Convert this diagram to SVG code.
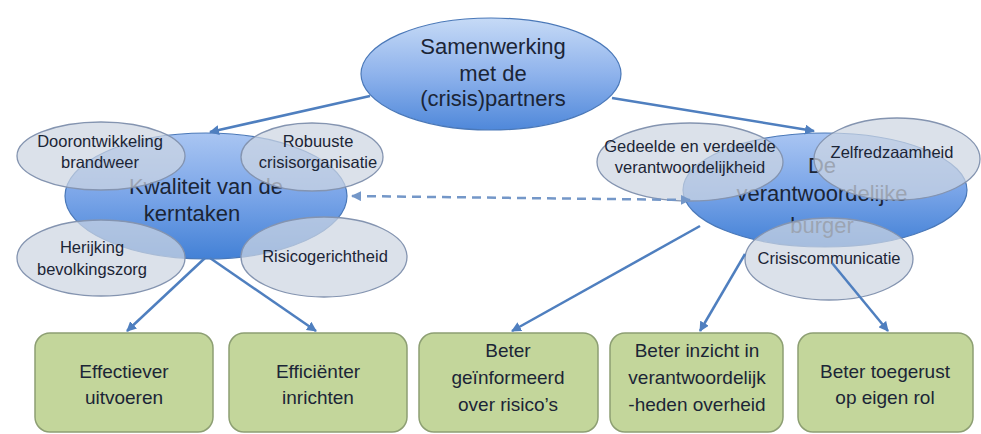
<svg xmlns="http://www.w3.org/2000/svg" width="981" height="434" viewBox="0 0 981 434">
<defs>
<linearGradient id="gTop" x1="0" y1="0" x2="0" y2="1">
<stop offset="0" stop-color="#c6daf6"/>
<stop offset="0.5" stop-color="#8fb3ec"/>
<stop offset="1" stop-color="#4f88da"/>
</linearGradient>
<linearGradient id="gMain" x1="0" y1="0" x2="0" y2="1">
<stop offset="0" stop-color="#a9c5f2"/>
<stop offset="0.5" stop-color="#7aa5e8"/>
<stop offset="1" stop-color="#4381d6"/>
</linearGradient>
<marker id="ah" viewBox="0 0 10 10" refX="9" refY="5" markerWidth="4" markerHeight="4" orient="auto-start-reverse" markerUnits="strokeWidth">
<path d="M0,0 L10,5 L0,10 z" fill="#4f7fbf"/>
</marker>
<marker id="ahd" viewBox="0 0 10 10" refX="9" refY="5" markerWidth="4" markerHeight="4" orient="auto-start-reverse" markerUnits="strokeWidth">
<path d="M0,0 L10,5 L0,10 z" fill="#7497c8"/>
</marker>
</defs>
<style>
text{font-family:"Liberation Sans",Arial,sans-serif;fill:#1b2536;text-anchor:middle}
.big{font-size:22px}
.sm{font-size:16.5px}
.bx{font-size:19px}
.main{stroke:#4a78b8;stroke-width:1.2}
.sub{fill:#cdd5e2;fill-opacity:0.72;stroke:#8494b0;stroke-width:1.3}
.box{fill:#c3d69b;stroke:#8d9f73;stroke-width:1.5}
.c{fill:none;stroke:#4f7fbf;stroke-width:2.5;marker-end:url(#ah)}
.d{fill:none;stroke:#7497c8;stroke-width:2.5;stroke-dasharray:9 6;marker-start:url(#ahd);marker-end:url(#ahd)}
</style>
<rect width="981" height="434" fill="#ffffff"/>

<g id="top">
<ellipse cx="491" cy="74" rx="130" ry="56" fill="url(#gTop)" class="main"/>
<text class="big" x="493" y="54">Samenwerking</text>
<text class="big" x="493" y="81">met de</text>
<text class="big" x="493" y="106">(crisis)partners</text>
</g>

<g id="kwaliteit">
<ellipse cx="206" cy="196" rx="141" ry="63" fill="url(#gMain)" class="main"/>
<text class="big" x="206" y="194">Kwaliteit van de</text>
<text class="big" x="192" y="221">kerntaken</text>
</g>

<g id="burger">
<ellipse cx="825" cy="190" rx="142" ry="57" fill="url(#gMain)" class="main"/>
<text class="big" x="822" y="173">De</text>
<text class="big" x="822" y="201">verantwoordelijke</text>
<text class="big" x="822" y="233">burger</text>
</g>

<g id="doorontwikkeling">
<ellipse cx="101" cy="156" rx="84" ry="34" class="sub"/>
<text class="sm" x="100" y="147">Doorontwikkeling</text>
<text class="sm" x="100" y="168">brandweer</text>
</g>
<g id="robuuste">
<ellipse cx="312" cy="157" rx="71" ry="34" class="sub"/>
<text class="sm" x="318" y="147">Robuuste</text>
<text class="sm" x="318" y="168">crisisorganisatie</text>
</g>
<g id="herijking">
<ellipse cx="101" cy="258" rx="84" ry="38" class="sub"/>
<text class="sm" x="92" y="253">Herijking</text>
<text class="sm" x="92" y="275">bevolkingszorg</text>
</g>
<g id="risico">
<ellipse cx="324" cy="257" rx="83" ry="40" class="sub"/>
<text class="sm" x="325" y="262">Risicogerichtheid</text>
</g>
<g id="gedeelde">
<ellipse cx="690" cy="162" rx="93" ry="39" class="sub"/>
<text class="sm" x="690" y="152">Gedeelde  en verdeelde</text>
<text class="sm" x="690" y="173">verantwoordelijkheid</text>
</g>
<g id="zelfredzaamheid">
<ellipse cx="897" cy="159" rx="83" ry="41" class="sub"/>
<text class="sm" x="892" y="158">Zelfredzaamheid</text>
</g>
<g id="crisiscommunicatie">
<ellipse cx="829" cy="259" rx="84" ry="41" class="sub"/>
<text class="sm" x="829" y="264">Crisiscommunicatie</text>
</g>

<g id="connectors">
<line x1="370" y1="96" x2="210" y2="132" class="c"/>
<line x1="612" y1="98" x2="814" y2="131" class="c"/>
<line x1="352" y1="196" x2="690" y2="200" class="d"/>
<line x1="205" y1="258" x2="127" y2="331" class="c"/>
<line x1="210" y1="258" x2="316" y2="331" class="c"/>
<line x1="700" y1="226" x2="512" y2="331" class="c"/>
<line x1="745" y1="254" x2="700" y2="331" class="c"/>
<line x1="832" y1="263" x2="888" y2="331" class="c"/>
</g>

<g id="box1">
<rect x="35" y="333" width="178" height="99" rx="15" class="box"/>
<text class="bx" x="124" y="378">Effectiever</text>
<text class="bx" x="124" y="404">uitvoeren</text>
</g>
<g id="box2">
<rect x="229" y="333" width="178" height="99" rx="15" class="box"/>
<text class="bx" x="318" y="378">Efficiënter</text>
<text class="bx" x="318" y="404">inrichten</text>
</g>
<g id="box3">
<rect x="419" y="333" width="179" height="99" rx="15" class="box"/>
<text class="bx" x="508" y="357">Beter</text>
<text class="bx" x="508" y="384">geïnformeerd</text>
<text class="bx" x="508" y="411">over risico’s</text>
</g>
<g id="box4">
<rect x="610" y="333" width="173" height="99" rx="15" class="box"/>
<text class="bx" x="697" y="357">Beter inzicht in</text>
<text class="bx" x="697" y="384">verantwoordelijk</text>
<text class="bx" x="697" y="411">-heden overheid</text>
</g>
<g id="box5">
<rect x="798" y="333" width="175" height="99" rx="15" class="box"/>
<text class="bx" x="885" y="378">Beter toegerust</text>
<text class="bx" x="885" y="404">op eigen rol</text>
</g>
</svg>
